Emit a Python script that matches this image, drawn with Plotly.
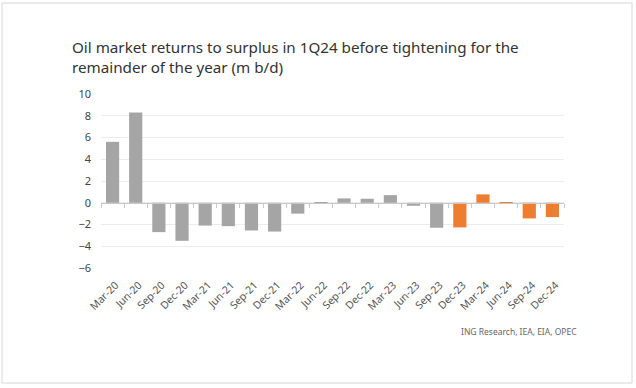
import plotly.graph_objects as go

categories = ["Mar-20", "Jun-20", "Sep-20", "Dec-20", "Mar-21", "Jun-21", "Sep-21", "Dec-21",
              "Mar-22", "Jun-22", "Sep-22", "Dec-22", "Mar-23", "Jun-23", "Sep-23", "Dec-23",
              "Mar-24", "Jun-24", "Sep-24", "Dec-24"]
values = [5.6, 8.3, -2.7, -3.5, -2.1, -2.15, -2.55, -2.65,
          -1.0, -0.05, 0.4, 0.37, 0.7, -0.28, -2.3, -2.27,
          0.77, 0.03, -1.44, -1.32]
forecast_start = "Dec-23"
y_ticks = [-6, -4, -2, 0, 2, 4, 6, 8, 10]
title_lines = ["Oil market returns to surplus in 1Q24 before tightening for the",
               "remainder of the year (m b/d)"]
source_text = "ING Research, IEA, EIA, OPEC"

GREY = "#a5a5a5"
ORANGE = "#ed7d31"
fc_idx = categories.index(forecast_start)
colors = [GREY if i < fc_idx else ORANGE for i in range(len(categories))]

FONT = "Noto Sans"
W, H = 636, 388
L, R, T, B = 101, 72, 94, 120
ymin, ymax = -6, 10
zero_pos = (0 - ymin) / (ymax - ymin)
PW, PH = W - L - R, H - T - B


def px_x(x):
    return (x - L) / PW


def px_y(y):
    return (H - B - y) / PH


fig = go.Figure()
fig.add_trace(go.Bar(x=categories, y=values, marker=dict(color=colors, line=dict(width=0)),
                     showlegend=False, hoverinfo="x+y"))
fig.add_trace(go.Scatter(x=categories, y=[None] * len(categories), xaxis="x2", mode="none",
                         showlegend=False, hoverinfo="skip"))

annotations = []
for line, yc in zip(title_lines, [47, 67]):
    annotations.append(dict(text=line, xref="paper", yref="paper", x=px_x(70), y=px_y(yc),
                            xanchor="left", yanchor="middle", showarrow=False,
                            font=dict(family=FONT, size=15.2, color="#333333")))
annotations.append(dict(text=source_text, xref="paper", yref="paper",
                        x=px_x(579), y=px_y(331),
                        xanchor="right", yanchor="middle", showarrow=False,
                        font=dict(family=FONT, size=8.5, color="#666")))

fig.update_layout(
    width=W, height=H,
    margin=dict(l=L, r=R, t=T, b=B, autoexpand=False),
    paper_bgcolor="white", plot_bgcolor="white",
    bargap=0.43,
    font=dict(family=FONT, color="#444"),
    xaxis=dict(type="category", categoryorder="array", categoryarray=categories,
               tickangle=-45, tickfont=dict(size=10.5, color="#555"), automargin=False,
               ticklabelstandoff=8, ticklabelshift=3,
               showgrid=False, showline=False, ticks="", zeroline=False),
    xaxis2=dict(type="category", categoryorder="array", categoryarray=categories,
                matches="x", overlaying="x", anchor="free", position=zero_pos,
                showticklabels=False, showgrid=False, showline=True, linecolor="#c8c8c8",
                linewidth=1, ticks="outside", tickson="boundaries", ticklen=4,
                tickcolor="#c8c8c8", zeroline=False, automargin=False),
    yaxis=dict(range=[ymin, ymax], tickvals=y_ticks, showgrid=True, gridcolor="#ececec",
               gridwidth=1, zeroline=False, showline=False, ticks="", automargin=False,
               tickfont=dict(size=11, color="#444"), ticklabelstandoff=9),
    annotations=annotations,
    shapes=[dict(type="rect", xref="paper", yref="paper",
                 x0=px_x(2), x1=px_x(632), y0=px_y(383), y1=px_y(3),
                 line=dict(color="#d6d6d6", width=1), layer="below")],
)

fig.write_html("out.html", config={"displayModeBar": False},
               post_script="document.body.style.margin='0';document.body.style.overflow='hidden';")
